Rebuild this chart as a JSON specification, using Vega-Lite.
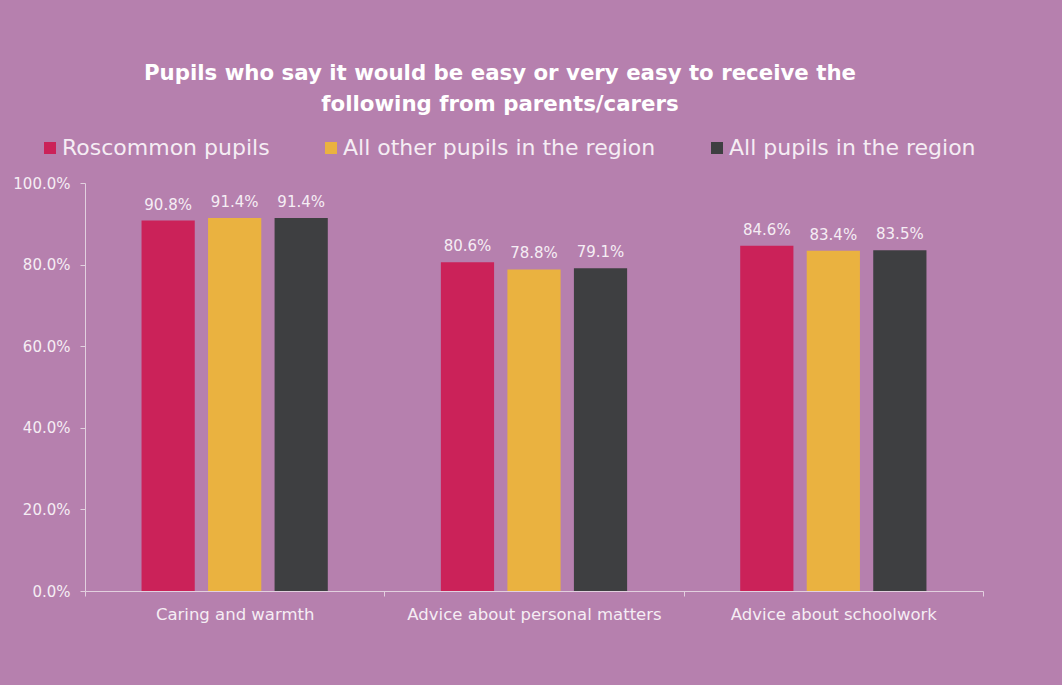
{
  "$schema": "https://vega.github.io/schema/vega-lite/v6.json",
  "width": 898,
  "height": 408,
  "autosize": "none",
  "padding": {"left": 85, "top": 183, "right": 79, "bottom": 94},
  "background": "#B680AE",
  "config": {
    "font": "DejaVu Sans",
    "view": {"stroke": null}
  },
  "title": {
    "text": ["Pupils who say it would be easy or very easy to receive the", "following from parents/carers"],
    "color": "#FFFFFF",
    "fontSize": 21.3,
    "fontWeight": "bold",
    "anchor": "middle",
    "dx": -34,
    "offset": 22,
    "lineHeight": 31
  },
  "data": {
    "values": [
      {"category": "Caring and warmth", "group": "Roscommon pupils", "value": 0.908},
      {"category": "Caring and warmth", "group": "All other pupils in the region", "value": 0.914},
      {"category": "Caring and warmth", "group": "All pupils in the region", "value": 0.914},
      {"category": "Advice about personal matters", "group": "Roscommon pupils", "value": 0.806},
      {"category": "Advice about personal matters", "group": "All other pupils in the region", "value": 0.788},
      {"category": "Advice about personal matters", "group": "All pupils in the region", "value": 0.791},
      {"category": "Advice about schoolwork", "group": "Roscommon pupils", "value": 0.846},
      {"category": "Advice about schoolwork", "group": "All other pupils in the region", "value": 0.834},
      {"category": "Advice about schoolwork", "group": "All pupils in the region", "value": 0.835}
    ]
  },
  "encoding": {
    "x": {
      "field": "category",
      "type": "nominal",
      "sort": null,
      "scale": {"paddingInner": 0, "paddingOuter": 0},
      "axis": {
        "title": null,
        "labelAngle": 0,
        "labelColor": "#F5EDF4",
        "labelFontSize": 16.5,
        "labelPadding": 10,
        "labelLimit": 300,
        "domainColor": "#E2D0DF",
        "tickColor": "#E2D0DF",
        "tickSize": 5,
        "tickBand": "extent"
      }
    },
    "xOffset": {
      "field": "group",
      "type": "nominal",
      "sort": ["Roscommon pupils", "All other pupils in the region", "All pupils in the region"],
      "scale": {"paddingInner": 0.2, "paddingOuter": 0.85}
    },
    "y": {
      "field": "value",
      "type": "quantitative",
      "scale": {"domain": [0, 1]},
      "axis": {
        "title": null,
        "format": ".1%",
        "values": [0, 0.2, 0.4, 0.6, 0.8, 1],
        "grid": false,
        "labelColor": "#F5EDF4",
        "labelFontSize": 15,
        "labelPadding": 10,
        "domainColor": "#E2D0DF",
        "tickColor": "#E2D0DF",
        "tickSize": 5
      }
    }
  },
  "layer": [
    {
      "mark": {"type": "bar"},
      "encoding": {
        "color": {
          "field": "group",
          "type": "nominal",
          "sort": ["Roscommon pupils", "All other pupils in the region", "All pupils in the region"],
          "scale": {
            "domain": ["Roscommon pupils", "All other pupils in the region", "All pupils in the region"],
            "range": ["#CB2259", "#EAB240", "#3E3F41"]
          },
          "legend": {
            "title": null,
            "orient": "none",
            "direction": "horizontal",
            "legendX": -46,
            "legendY": -46,
            "symbolType": "square",
            "symbolSize": 144,
            "symbolOpacity": 1,
            "symbolStrokeWidth": 0,
            "labelFontSize": 22,
            "labelColor": "#F5EDF4",
            "labelOffset": 1,
            "labelLimit": 400,
            "columnPadding": 50
          }
        }
      }
    },
    {
      "mark": {"type": "text", "dy": -16, "fontSize": 15, "color": "#F5EDF4"},
      "encoding": {
        "text": {"field": "value", "type": "quantitative", "format": ".1%"}
      }
    }
  ]
}
